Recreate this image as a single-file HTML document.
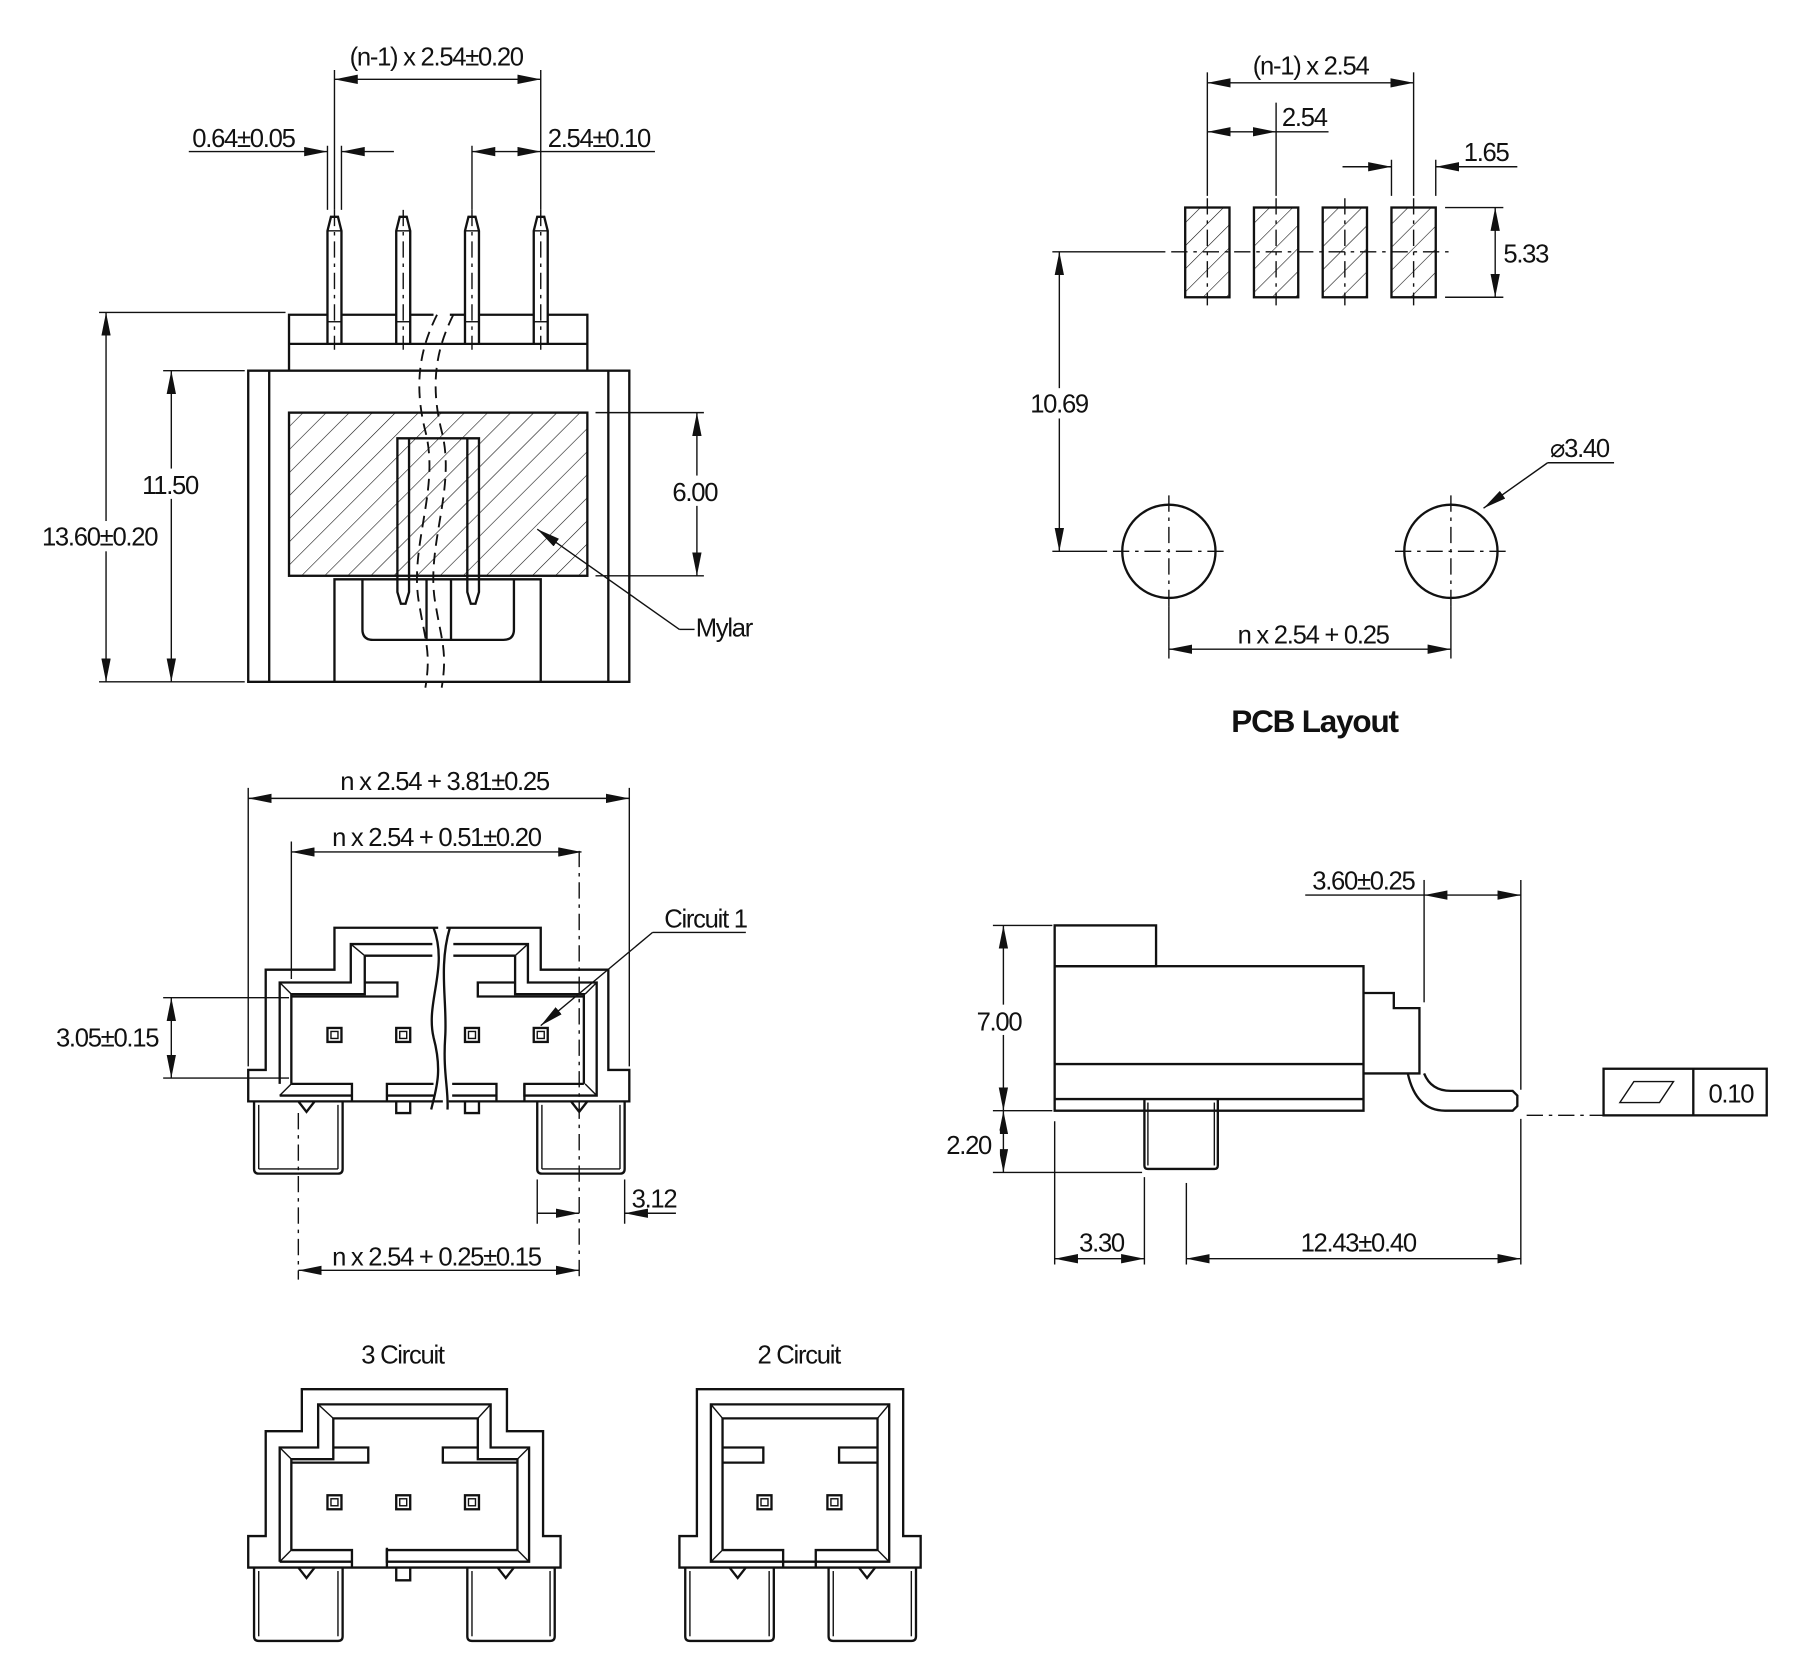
<!DOCTYPE html>
<html><head><meta charset="utf-8"><style>
html,body{margin:0;padding:0;background:#fff;}
svg{display:block;}
text{font-family:"Liberation Sans Narrow","Liberation Sans",sans-serif;font-size:22px;fill:#111;letter-spacing:-1.1px;}
.o{fill:none;stroke:#111;stroke-width:2;}
.t{fill:none;stroke:#111;stroke-width:1.2;}
.d{fill:none;stroke:#111;stroke-width:1.2;stroke-dasharray:14 5 3 5;}
.dd{fill:none;stroke:#111;stroke-width:1.6;stroke-dasharray:10 6;}
.a{fill:none;stroke:#111;stroke-width:1.2;marker-start:url(#ar);marker-end:url(#ar);}
.a1{fill:none;stroke:#111;stroke-width:1.2;marker-end:url(#ar);}
</style></head><body>
<svg width="1818" height="1676" viewBox="0 0 1560 1438" xmlns="http://www.w3.org/2000/svg">
<defs>
<marker id="ar" viewBox="0 0 20 8" refX="20" refY="4" markerWidth="20" markerHeight="8" markerUnits="userSpaceOnUse" orient="auto-start-reverse"><path d="M0,0 L20,4 L0,8 z" fill="#111"/></marker>
<pattern id="h" patternUnits="userSpaceOnUse" width="14" height="14" patternTransform="rotate(45)"><line x1="0" y1="0" x2="0" y2="14" stroke="#111" stroke-width="1"/></pattern>
<g id="sq"><rect x="-6" y="-6" width="12" height="12" class="o"/><rect x="-3" y="-3" width="6" height="6" class="t"/></g>
</defs>

<!-- ========== TOP LEFT VIEW ========== -->
<g>
<path class="o" d="M281,295 V198 L284,186 H290 L293,198 V295"/>
<path class="o" d="M340,295 V198 L343,186 H349 L352,198 V295"/>
<path class="o" d="M399,295 V198 L402,186 H408 L411,198 V295"/>
<path class="o" d="M458,295 V198 L461,186 H467 L470,198 V295"/>
<line class="t" x1="281" y1="198" x2="293" y2="198"/><line class="t" x1="340" y1="198" x2="352" y2="198"/><line class="t" x1="399" y1="198" x2="411" y2="198"/><line class="t" x1="458" y1="198" x2="470" y2="198"/>
<line class="t" x1="281" y1="276" x2="293" y2="276"/><line class="t" x1="340" y1="276" x2="352" y2="276"/><line class="t" x1="399" y1="276" x2="411" y2="276"/><line class="t" x1="458" y1="276" x2="470" y2="276"/>
<line class="d" x1="287" y1="180" x2="287" y2="300"/><line class="d" x1="346" y1="180" x2="346" y2="300"/><line class="d" x1="405" y1="180" x2="405" y2="300"/><line class="d" x1="464" y1="180" x2="464" y2="300"/>
</g>
<path class="o" d="M248,318 V270 H281 M293,270 H340 M352,270 H372 M386,270 H399 M411,270 H458 M470,270 H504 V318"/>
<line class="o" x1="248" y1="295" x2="504" y2="295"/>
<rect class="o" x="213" y="318" width="327" height="267"/>
<line class="o" x1="231" y1="318" x2="231" y2="585"/><line class="o" x1="522" y1="318" x2="522" y2="585"/>
<rect x="248" y="354" width="256" height="140" fill="url(#h)" stroke="#111" stroke-width="2"/>
<path class="o" d="M341,494 V376 H411 V494"/>
<line class="o" x1="351" y1="376" x2="351" y2="494"/><line class="o" x1="401" y1="376" x2="401" y2="494"/>
<path class="o" d="M341,494 V508 L344,518 H348 L351,508 V494 M401,494 V508 L404,518 H408 L411,508 V494"/>
<path class="o" d="M287,585 V497 H464 V585"/>
<path class="o" d="M311,497 V540 Q311,549 320,549 H432 Q441,549 441,540 V497"/>
<line class="o" x1="366" y1="497" x2="366" y2="549"/><line class="o" x1="387" y1="497" x2="387" y2="549"/>
<path class="dd" d="M375,270 C360,300 355,330 365,370 C378,420 350,470 360,520 C365,550 370,560 365,590"/>
<path class="dd" d="M389,270 C374,300 369,330 379,370 C392,420 364,470 374,520 C379,550 384,560 379,590"/>
<line class="t" x1="287" y1="60" x2="287" y2="180"/><line class="t" x1="464" y1="60" x2="464" y2="180"/>
<line class="a" x1="287" y1="68" x2="464" y2="68"/>
<text x="300" y="56">(n-1) x 2.54±0.20</text>
<line class="t" x1="281" y1="125" x2="281" y2="180"/><line class="t" x1="293" y1="125" x2="293" y2="180"/>
<line class="a1" x1="162" y1="130" x2="281" y2="130"/><line class="a1" x1="338" y1="130" x2="293" y2="130"/>
<text x="165" y="126">0.64±0.05</text>
<line class="t" x1="405" y1="125" x2="405" y2="180"/>
<line class="a" x1="405" y1="130" x2="464" y2="130"/><line class="t" x1="464" y1="130" x2="562" y2="130"/>
<text x="470" y="126">2.54±0.10</text>
<line class="t" x1="85" y1="268" x2="245" y2="268"/><line class="t" x1="85" y1="585" x2="210" y2="585"/>
<line class="a" x1="91" y1="268" x2="91" y2="585"/>
<rect x="36" y="447" width="104" height="26" fill="#fff"/>
<text x="36" y="468">13.60±0.20</text>
<line class="t" x1="140" y1="318" x2="210" y2="318"/>
<line class="a" x1="147" y1="318" x2="147" y2="585"/>
<rect x="120" y="402" width="54" height="26" fill="#fff"/>
<text x="122" y="424">11.50</text>
<line class="t" x1="511" y1="354" x2="604" y2="354"/><line class="t" x1="511" y1="494" x2="604" y2="494"/>
<line class="a" x1="598" y1="354" x2="598" y2="494"/>
<rect x="575" y="408" width="48" height="26" fill="#fff"/>
<text x="577" y="430">6.00</text>
<line class="a1" x1="583" y1="540" x2="461" y2="454"/><line class="t" x1="583" y1="540" x2="596" y2="540"/>
<text x="597" y="546">Mylar</text>

<!-- ========== PCB LAYOUT ========== -->
<g>
<rect x="1017" y="178" width="38" height="77" fill="url(#h)" stroke="#111" stroke-width="2"/>
<rect x="1076" y="178" width="38" height="77" fill="url(#h)" stroke="#111" stroke-width="2"/>
<rect x="1135" y="178" width="38" height="77" fill="url(#h)" stroke="#111" stroke-width="2"/>
<rect x="1194" y="178" width="38" height="77" fill="url(#h)" stroke="#111" stroke-width="2"/>
<line class="d" x1="1036" y1="170" x2="1036" y2="262"/><line class="d" x1="1095" y1="170" x2="1095" y2="262"/><line class="d" x1="1154" y1="170" x2="1154" y2="262"/><line class="d" x1="1213" y1="170" x2="1213" y2="262"/>
<line class="d" x1="1005" y1="216" x2="1245" y2="216"/>
</g>
<line class="t" x1="903" y1="216" x2="1000" y2="216"/>
<circle class="o" cx="1003" cy="473" r="40"/><circle class="o" cx="1245" cy="473" r="40"/>
<line class="d" x1="955" y1="473" x2="1050" y2="473"/><line class="d" x1="1003" y1="425" x2="1003" y2="520"/>
<line class="d" x1="1197" y1="473" x2="1293" y2="473"/><line class="d" x1="1245" y1="425" x2="1245" y2="520"/>
<line class="t" x1="1036" y1="62" x2="1036" y2="168"/><line class="t" x1="1213" y1="62" x2="1213" y2="168"/>
<line class="a" x1="1036" y1="71" x2="1213" y2="71"/>
<text x="1075" y="64">(n-1) x 2.54</text>
<line class="a" x1="1036" y1="113" x2="1095" y2="113"/><line class="t" x1="1095" y1="88" x2="1095" y2="168"/>
<line class="t" x1="1095" y1="113" x2="1140" y2="113"/>
<text x="1100" y="108">2.54</text>
<line class="t" x1="1194" y1="137" x2="1194" y2="168"/><line class="t" x1="1232" y1="137" x2="1232" y2="168"/>
<line class="a1" x1="1152" y1="143" x2="1194" y2="143"/><line class="a1" x1="1302" y1="143" x2="1232" y2="143"/>
<text x="1256" y="138">1.65</text>
<line class="t" x1="1240" y1="178" x2="1290" y2="178"/><line class="t" x1="1240" y1="255" x2="1290" y2="255"/>
<line class="a" x1="1283" y1="178" x2="1283" y2="255"/>
<text x="1290" y="225">5.33</text>
<line class="a" x1="909" y1="216" x2="909" y2="473"/><line class="t" x1="903" y1="473" x2="950" y2="473"/>
<rect x="883" y="333" width="52" height="26" fill="#fff"/>
<text x="884" y="354">10.69</text>
<line class="t" x1="1003" y1="520" x2="1003" y2="565"/><line class="t" x1="1245" y1="520" x2="1245" y2="565"/>
<line class="a" x1="1003" y1="557" x2="1245" y2="557"/>
<text x="1062" y="552">n x 2.54 + 0.25</text>
<line class="a1" x1="1328" y1="397" x2="1273" y2="436"/><line class="t" x1="1328" y1="397" x2="1385" y2="397"/>
<text x="1330" y="392">⌀3.40</text>
<text x="1128" y="628" text-anchor="middle" style="font-family:'Liberation Sans',sans-serif;font-weight:bold;font-size:27px;letter-spacing:-1px">PCB Layout</text>

<!-- ========== FRONT VIEW ========== -->
<path class="o" d="M376,796 H287 V832 H228 V918 H213 V945 H380 M385,945 H540 V918 H522 V832 H464 V796 H383"/>
<path class="o" d="M240,930 V843 H301 V810 H371 M389,810 H453 V843 H512 V940 H450 V930 M302,940 H240"/>
<path class="o" d="M250,930 V853 H313 V820 M501,930 V853 H442 V820"/>
<line class="t" x1="240" y1="843" x2="250" y2="853"/><line class="t" x1="512" y1="843" x2="502" y2="853"/>
<line class="t" x1="240" y1="940" x2="250" y2="930"/><line class="t" x1="512" y1="940" x2="502" y2="930"/>
<line class="t" x1="301" y1="810" x2="313" y2="820"/><line class="t" x1="453" y1="810" x2="442" y2="820"/>
<path class="o" d="M313,820 H371 M389,820 H442"/>
<path class="o" d="M313,843 H341 V855 H250 M442,843 H410 V855 H501"/>
<path class="o" d="M250,930 H302 V945 M332,945 V930 H372 M388,930 H426 V945 M450,945 V930 H501"/>
<line class="o" x1="332" y1="940" x2="372" y2="940"/><line class="o" x1="388" y1="940" x2="426" y2="940"/>
<path class="o" d="M340,945 V955 H352 V945 M399,945 V955 H411 V945"/>
<use href="#sq" x="287" y="888"/><use href="#sq" x="346" y="888"/><use href="#sq" x="405" y="888"/><use href="#sq" x="464" y="888"/>
<path class="o" d="M218,945 V1003 Q218,1007 222,1007 H290 Q294,1007 294,1003 V945 M461,945 V1003 Q461,1007 465,1007 H532 Q536,1007 536,1003 V945"/>
<line class="t" x1="222" y1="948" x2="222" y2="1003"/><line class="t" x1="290" y1="948" x2="290" y2="1003"/><line class="t" x1="465" y1="948" x2="465" y2="1003"/><line class="t" x1="532" y1="948" x2="532" y2="1003"/>
<line class="t" x1="222" y1="1003" x2="290" y2="1003"/><line class="t" x1="465" y1="1003" x2="532" y2="1003"/>
<path class="o" d="M256,945 L263,954 L270,945 M490,945 L497,954 L504,945"/>
<path class="o" d="M372,796 C385,830 365,860 372,890 C380,920 374,935 370,952"/>
<path class="o" d="M386,796 C376,830 384,860 382,890 C380,920 385,935 384,952"/>
<line class="d" x1="256" y1="955" x2="256" y2="1098"/><line class="d" x1="497" y1="730" x2="497" y2="1098"/>
<line class="t" x1="213" y1="676" x2="213" y2="915"/><line class="t" x1="540" y1="676" x2="540" y2="915"/>
<line class="a" x1="213" y1="685" x2="540" y2="685"/>
<text x="292" y="678">n x 2.54 + 3.81±0.25</text>
<line class="t" x1="250" y1="722" x2="250" y2="840"/>
<line class="a" x1="250" y1="731" x2="499" y2="731"/>
<text x="285" y="726">n x 2.54 + 0.51±0.20</text>
<line class="t" x1="140" y1="856" x2="248" y2="856"/><line class="t" x1="140" y1="925" x2="248" y2="925"/>
<line class="a" x1="147" y1="856" x2="147" y2="925"/>
<text x="48" y="898">3.05±0.15</text>
<line class="t" x1="461" y1="1012" x2="461" y2="1050"/><line class="t" x1="536" y1="1012" x2="536" y2="1050"/>
<line class="a1" x1="461" y1="1041" x2="497" y2="1041"/><line class="a1" x1="580" y1="1041" x2="536" y2="1041"/>
<text x="542" y="1036">3.12</text>
<line class="a" x1="256" y1="1090" x2="497" y2="1090"/>
<text x="285" y="1086">n x 2.54 + 0.25±0.15</text>
<line class="a1" x1="560" y1="800" x2="464" y2="880"/><line class="t" x1="560" y1="800" x2="640" y2="800"/>
<text x="570" y="796">Circuit 1</text>

<!-- ========== SIDE VIEW ========== -->
<rect class="o" x="905" y="794" width="87" height="35"/>
<rect class="o" x="905" y="829" width="265" height="124"/>
<line class="o" x1="905" y1="913" x2="1170" y2="913"/><line class="o" x1="905" y1="943" x2="1170" y2="943"/>
<path class="o" d="M1170,852 H1196 V865 H1218 V921 H1170"/>
<path class="o" d="M1208,921 Q1215,953 1240,953 H1298 L1302,949 V940 L1298,936 H1245 Q1228,936 1222,921"/>
<path class="o" d="M982,943 V1000 Q982,1003 985,1003 H1042 Q1045,1003 1045,1000 V943"/>
<line class="t" x1="985" y1="946" x2="985" y2="1000"/><line class="t" x1="1042" y1="946" x2="1042" y2="1000"/>
<line class="t" x1="852" y1="794" x2="903" y2="794"/><line class="t" x1="852" y1="953" x2="903" y2="953"/><line class="t" x1="852" y1="1006" x2="980" y2="1006"/>
<line class="a" x1="861" y1="794" x2="861" y2="953"/>
<rect x="836" y="862" width="50" height="26" fill="#fff"/>
<text x="838" y="884">7.00</text>
<line class="a" x1="861" y1="953" x2="861" y2="1006"/>
<rect x="810" y="970" width="48" height="24" fill="#fff"/>
<text x="812" y="990">2.20</text>
<line class="t" x1="1222" y1="755" x2="1222" y2="860"/><line class="t" x1="1305" y1="755" x2="1305" y2="935"/><line class="t" x1="1305" y1="960" x2="1305" y2="1085"/>
<line class="a" x1="1222" y1="768" x2="1305" y2="768"/><line class="t" x1="1120" y1="768" x2="1222" y2="768"/>
<text x="1126" y="763">3.60±0.25</text>
<line class="t" x1="905" y1="962" x2="905" y2="1085"/><line class="t" x1="982" y1="1010" x2="982" y2="1085"/><line class="t" x1="1018" y1="1015" x2="1018" y2="1085"/>
<line class="a" x1="905" y1="1080" x2="982" y2="1080"/>
<text x="926" y="1074">3.30</text>
<line class="a" x1="1018" y1="1080" x2="1305" y2="1080"/>
<text x="1116" y="1074">12.43±0.40</text>
<line class="d" x1="1310" y1="957" x2="1376" y2="957"/>
<rect class="o" x="1376" y="917" width="140" height="40"/>
<line class="o" x1="1453" y1="917" x2="1453" y2="957"/>
<path class="t" d="M1390,946 L1402,928 H1436 L1424,946 Z"/>
<text x="1466" y="946">0.10</text>

<!-- ========== 3 CIRCUIT ========== -->
<text x="310" y="1170">3 Circuit</text>
<path class="o" d="M213,1345 V1318 H228 V1228 H259 V1192 H435 V1228 H466 V1318 H481 V1345 Z"/>
<path class="o" d="M240,1340 V1242 H273 V1205 H421 V1242 H454 V1340 H332 V1328 M302,1340 H240"/>
<path class="o" d="M250,1330 V1252 H286 V1217 H410 V1252 H444 V1330"/>
<line class="t" x1="240" y1="1242" x2="250" y2="1252"/><line class="t" x1="454" y1="1242" x2="444" y2="1252"/>
<line class="t" x1="240" y1="1340" x2="250" y2="1330"/><line class="t" x1="454" y1="1340" x2="444" y2="1330"/>
<line class="t" x1="273" y1="1205" x2="286" y2="1217"/><line class="t" x1="421" y1="1205" x2="410" y2="1217"/>
<path class="o" d="M286,1242 H316 V1255 H250 M410,1242 H380 V1255 H444"/>
<path class="o" d="M250,1330 H302 V1345 M332,1345 V1330 H444"/>
<path class="o" d="M340,1345 V1356 H352 V1345"/>
<use href="#sq" x="287" y="1289"/><use href="#sq" x="346" y="1289"/><use href="#sq" x="405" y="1289"/>
<path class="o" d="M218,1345 V1404 Q218,1408 222,1408 H290 Q294,1408 294,1404 V1345 M401,1345 V1404 Q401,1408 405,1408 H472 Q476,1408 476,1404 V1345"/>
<line class="t" x1="222" y1="1348" x2="222" y2="1404"/><line class="t" x1="290" y1="1348" x2="290" y2="1404"/><line class="t" x1="405" y1="1348" x2="405" y2="1404"/><line class="t" x1="472" y1="1348" x2="472" y2="1404"/>
<path class="o" d="M256,1345 L263,1354 L270,1345 M427,1345 L434,1354 L441,1345"/>

<!-- ========== 2 CIRCUIT ========== -->
<text x="650" y="1170">2 Circuit</text>
<path class="o" d="M583,1345 V1318 H598 V1192 H775 V1318 H790 V1345 Z"/>
<path class="o" d="M610,1340 V1205 H763 V1340 Z"/>
<path class="o" d="M620,1330 V1217 H753 V1330"/>
<line class="t" x1="610" y1="1205" x2="620" y2="1217"/><line class="t" x1="763" y1="1205" x2="753" y2="1217"/>
<line class="t" x1="610" y1="1340" x2="620" y2="1330"/><line class="t" x1="763" y1="1340" x2="753" y2="1330"/>
<path class="o" d="M620,1242 H655 V1255 H620 M753,1242 H720 V1255 H753"/>
<path class="o" d="M620,1330 H672 V1345 M700,1345 V1330 H753"/>
<use href="#sq" x="656" y="1289"/><use href="#sq" x="716" y="1289"/>
<path class="o" d="M588,1345 V1404 Q588,1408 592,1408 H660 Q664,1408 664,1404 V1345 M711,1345 V1404 Q711,1408 715,1408 H782 Q786,1408 786,1404 V1345"/>
<line class="t" x1="592" y1="1348" x2="592" y2="1404"/><line class="t" x1="660" y1="1348" x2="660" y2="1404"/><line class="t" x1="715" y1="1348" x2="715" y2="1404"/><line class="t" x1="782" y1="1348" x2="782" y2="1404"/>
<path class="o" d="M626,1345 L633,1354 L640,1345 M737,1345 L744,1354 L751,1345"/>
</svg>
</body></html>
